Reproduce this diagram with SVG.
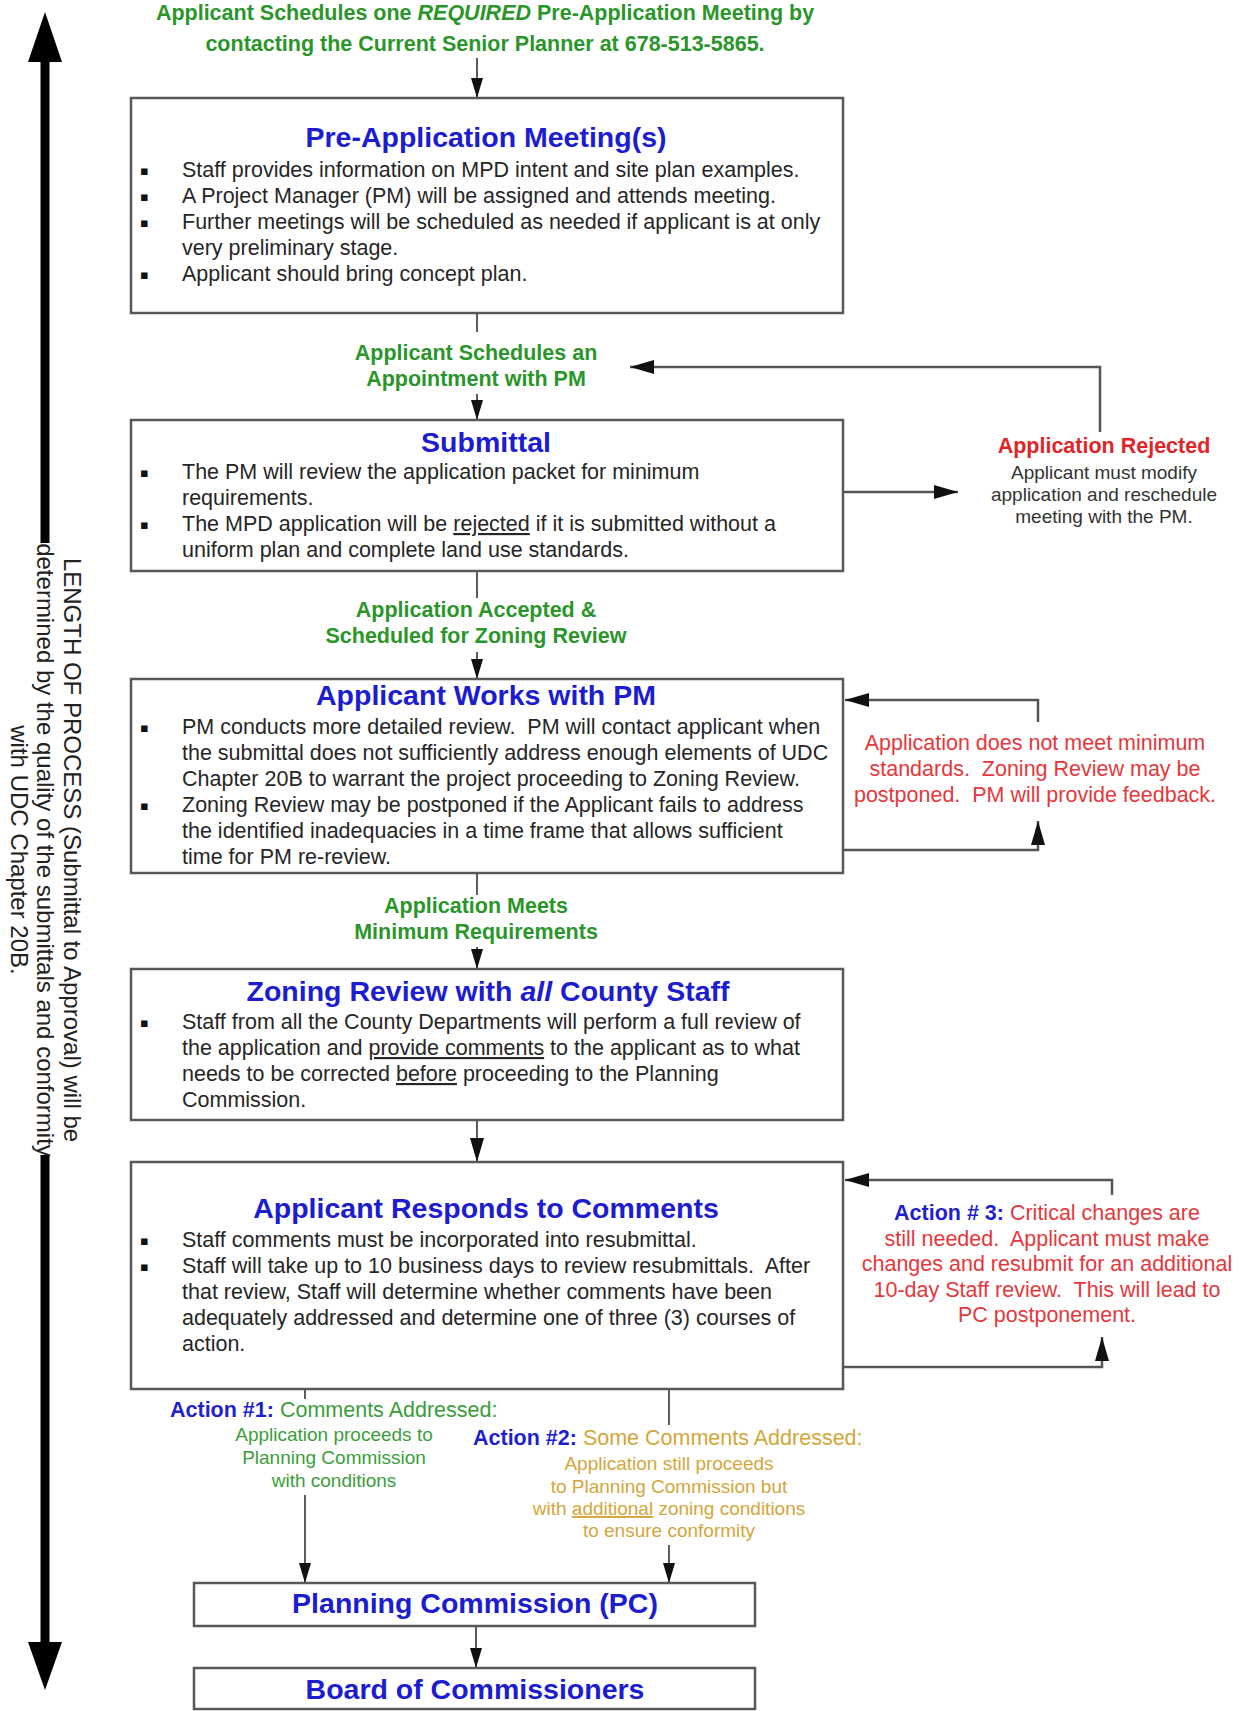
<svg xmlns="http://www.w3.org/2000/svg" width="1241" height="1711" viewBox="0 0 1241 1711">
<style>
.box{fill:#fff;stroke:#585858;stroke-width:2.5}
.title{font-family:"Liberation Sans",Arial,sans-serif;font-weight:bold;font-size:28.5px;fill:#1C1CD0;text-anchor:middle}
.body{font-family:"Liberation Sans",Arial,sans-serif;font-size:21.5px;fill:#262626}
.bul{font-family:"DejaVu Sans",sans-serif;font-size:13px;fill:#111}
.lbl{font-family:"Liberation Sans",Arial,sans-serif;font-weight:bold;font-size:21.5px;fill:#2A962A;text-anchor:middle}
.red{font-family:"Liberation Sans",Arial,sans-serif;font-size:21.5px;fill:#E5383B;text-anchor:middle}
.redb{font-family:"Liberation Sans",Arial,sans-serif;font-weight:bold;font-size:21.5px;fill:#E02428;text-anchor:middle}
.small{font-family:"Liberation Sans",Arial,sans-serif;font-size:19px;fill:#333;text-anchor:middle}
.act{font-family:"Liberation Sans",Arial,sans-serif;font-size:21.5px}
.ab{font-weight:bold;fill:#1F1FCF}
.gr{fill:#3A9E3A}
.och{fill:#D4A63A}
.side{font-family:"Liberation Sans",Arial,sans-serif;font-size:24px;fill:#222;text-anchor:middle}
.conn{stroke:#333;stroke-width:1.6;fill:none}
.fb{stroke:#555;stroke-width:2.5;fill:none}
</style>
<defs>
<marker id="ah" viewBox="0 0 20 12" markerWidth="20" markerHeight="12" refX="20" refY="6" orient="auto" markerUnits="userSpaceOnUse"><path d="M0,0 L20,6 L0,12 z" fill="#111"/></marker>
<marker id="ahb" viewBox="0 0 24 14" markerWidth="24" markerHeight="14" refX="24" refY="7" orient="auto" markerUnits="userSpaceOnUse"><path d="M0,0 L24,7 L0,14 z" fill="#111"/></marker>
</defs>
<rect x="0" y="0" width="1241" height="1711" fill="#fff"/>

<g id="length-of-process">
<rect x="40.5" y="58" width="9" height="485" fill="#000"/>
<rect x="40.5" y="1155" width="9" height="490" fill="#000"/>
<polygon points="45,12 28,62 62,62" fill="#000"/>
<polygon points="45,1690 28,1642 62,1642" fill="#000"/>
<text class="side" transform="translate(64,850) rotate(90)">LENGTH OF PROCESS (Submittal to Approval) will be</text>
<text class="side" transform="translate(37,850) rotate(90)">determined by the quality of the submittals and conformity</text>
<text class="side" transform="translate(11,850) rotate(90)">with UDC Chapter 20B.</text>
</g>

<g id="top-note">
<text class="lbl" x="485" y="20" font-size="21px">Applicant Schedules one <tspan font-style="italic">REQUIRED</tspan> Pre-Application Meeting by</text>
<text class="lbl" x="485" y="51" font-size="21px">contacting the Current Senior Planner at 678-513-5865.</text>
</g>

<g id="connectors">
<line class="conn" x1="477" y1="58" x2="477" y2="98" marker-end="url(#ah)"/>
<line class="conn" x1="477" y1="313" x2="477" y2="332"/>
<line class="conn" x1="477" y1="394" x2="477" y2="420" marker-end="url(#ah)"/>
<line class="conn" x1="477" y1="571" x2="477" y2="598"/>
<line class="conn" x1="477" y1="652" x2="477" y2="679" marker-end="url(#ah)"/>
<line class="conn" x1="477" y1="873" x2="477" y2="895"/>
<line class="conn" x1="477" y1="947" x2="477" y2="969" marker-end="url(#ah)"/>
<line class="conn" x1="477" y1="1120" x2="477" y2="1162" marker-end="url(#ahb)"/>
<line class="conn" x1="305" y1="1389" x2="305" y2="1399"/>
<line class="conn" x1="305" y1="1495" x2="305" y2="1583" marker-end="url(#ah)"/>
<line class="conn" x1="669" y1="1389" x2="669" y2="1425"/>
<line class="conn" x1="669" y1="1545" x2="669" y2="1583" marker-end="url(#ah)"/>
<line class="conn" x1="476" y1="1626" x2="476" y2="1668" marker-end="url(#ah)"/>
<polyline class="fb" points="1100,432 1100,367 630,367" marker-end="url(#ahb)"/>
<line class="fb" x1="843" y1="492" x2="958" y2="492" marker-end="url(#ahb)"/>
<polyline class="fb" points="843,850 1038,850 1038,821" marker-end="url(#ahb)"/>
<polyline class="fb" points="1038,722 1038,700 845,700" marker-end="url(#ahb)"/>
<polyline class="fb" points="1112,1195 1112,1180 845,1180" marker-end="url(#ahb)"/>
<polyline class="fb" points="843,1367 1102,1367 1102,1337" marker-end="url(#ahb)"/>
</g>

<g id="pre-application">
<rect class="box" x="131" y="98" width="712" height="215"/>
<text class="title" x="486" y="147">Pre-Application Meeting(s)</text>
<text class="bul" x="140" y="175">▪</text>
<text class="body" x="182" y="177">Staff provides information on MPD intent and site plan examples.</text>
<text class="bul" x="140" y="201">▪</text>
<text class="body" x="182" y="203">A Project Manager (PM) will be assigned and attends meeting.</text>
<text class="bul" x="140" y="227">▪</text>
<text class="body" x="182" y="229">Further meetings will be scheduled as needed if applicant is at only</text>
<text class="body" x="182" y="255">very preliminary stage.</text>
<text class="bul" x="140" y="279">▪</text>
<text class="body" x="182" y="281">Applicant should bring concept plan.</text>
</g>

<g id="label-appointment">
<text class="lbl" x="476" y="360">Applicant Schedules an</text>
<text class="lbl" x="476" y="386">Appointment with PM</text>
</g>

<g id="submittal">
<rect class="box" x="131" y="420" width="712" height="151"/>
<text class="title" x="486" y="452">Submittal</text>
<text class="bul" x="140" y="477">▪</text>
<text class="body" x="182" y="479">The PM will review the application packet for minimum</text>
<text class="body" x="182" y="505">requirements.</text>
<text class="bul" x="140" y="529">▪</text>
<text class="body" x="182" y="531">The MPD application will be <tspan text-decoration="underline">rejected</tspan> if it is submitted without a</text>
<text class="body" x="182" y="557">uniform plan and complete land use standards.</text>
</g>

<g id="application-rejected">
<text class="redb" x="1104" y="453">Application Rejected</text>
<text class="small" x="1104" y="479">Applicant must modify</text>
<text class="small" x="1104" y="501">application and reschedule</text>
<text class="small" x="1104" y="523">meeting with the PM.</text>
</g>

<g id="label-accepted">
<text class="lbl" x="476" y="617">Application Accepted &amp;</text>
<text class="lbl" x="476" y="643">Scheduled for Zoning Review</text>
</g>

<g id="works-with-pm">
<rect class="box" x="131" y="679" width="712" height="194"/>
<text class="title" x="486" y="705">Applicant Works with PM</text>
<text class="bul" x="140" y="732">▪</text>
<text class="body" x="182" y="734" xml:space="preserve">PM conducts more detailed review.  PM will contact applicant when</text>
<text class="body" x="182" y="760">the submittal does not sufficiently address enough elements of UDC</text>
<text class="body" x="182" y="786">Chapter 20B to warrant the project proceeding to Zoning Review.</text>
<text class="bul" x="140" y="810">▪</text>
<text class="body" x="182" y="812">Zoning Review may be postponed if the Applicant fails to address</text>
<text class="body" x="182" y="838">the identified inadequacies in a time frame that allows sufficient</text>
<text class="body" x="182" y="864">time for PM re-review.</text>
</g>

<g id="not-meet-note">
<text class="red" x="1035" y="750">Application does not meet minimum</text>
<text class="red" x="1035" y="776" xml:space="preserve">standards.  Zoning Review may be</text>
<text class="red" x="1035" y="802" xml:space="preserve">postponed.  PM will provide feedback.</text>
</g>

<g id="label-meets">
<text class="lbl" x="476" y="913">Application Meets</text>
<text class="lbl" x="476" y="939">Minimum Requirements</text>
</g>

<g id="zoning-review">
<rect class="box" x="131" y="969" width="712" height="151"/>
<text class="title" x="488" y="1001">Zoning Review with <tspan font-style="italic">all</tspan> County Staff</text>
<text class="bul" x="140" y="1027">▪</text>
<text class="body" x="182" y="1029">Staff from all the County Departments will perform a full review of</text>
<text class="body" x="182" y="1055">the application and <tspan text-decoration="underline">provide comments</tspan> to the applicant as to what</text>
<text class="body" x="182" y="1081">needs to be corrected <tspan text-decoration="underline">before</tspan> proceeding to the Planning</text>
<text class="body" x="182" y="1107">Commission.</text>
</g>

<g id="responds-to-comments">
<rect class="box" x="131" y="1162" width="712" height="227"/>
<text class="title" x="486" y="1218">Applicant Responds to Comments</text>
<text class="bul" x="140" y="1245">▪</text>
<text class="body" x="182" y="1247">Staff comments must be incorporated into resubmittal.</text>
<text class="bul" x="140" y="1271">▪</text>
<text class="body" x="182" y="1273" xml:space="preserve">Staff will take up to 10 business days to review resubmittals.  After</text>
<text class="body" x="182" y="1299">that review, Staff will determine whether comments have been</text>
<text class="body" x="182" y="1325">adequately addressed and determine one of three (3) courses of</text>
<text class="body" x="182" y="1351">action.</text>
</g>

<g id="action3-note">
<text class="red" x="1047" y="1220"><tspan class="ab">Action # 3:</tspan> Critical changes are</text>
<text class="red" x="1047" y="1246" xml:space="preserve">still needed.  Applicant must make</text>
<text class="red" x="1047" y="1271">changes and resubmit for an additional</text>
<text class="red" x="1047" y="1297" xml:space="preserve">10-day Staff review.  This will lead to</text>
<text class="red" x="1047" y="1322">PC postponement.</text>
</g>

<g id="action1-note">
<text class="act gr" x="170" y="1417"><tspan class="ab">Action #1:</tspan> Comments Addressed:</text>
<text class="small gr" x="334" y="1441">Application proceeds to</text>
<text class="small gr" x="334" y="1464">Planning Commission</text>
<text class="small gr" x="334" y="1487">with conditions</text>
</g>

<g id="action2-note">
<text class="act och" x="473" y="1445"><tspan class="ab">Action #2:</tspan> Some Comments Addressed:</text>
<text class="small och" x="669" y="1470">Application still proceeds</text>
<text class="small och" x="669" y="1493">to Planning Commission but</text>
<text class="small och" x="669" y="1515">with <tspan text-decoration="underline">additional</tspan> zoning conditions</text>
<text class="small och" x="669" y="1537">to ensure conformity</text>
</g>

<g id="planning-commission">
<rect class="box" x="194" y="1583" width="561" height="43"/>
<text class="title" x="475" y="1613">Planning Commission (PC)</text>
</g>

<g id="board-of-commissioners">
<rect class="box" x="194" y="1668" width="561" height="41"/>
<text class="title" x="475" y="1699">Board of Commissioners</text>
</g>
</svg>
